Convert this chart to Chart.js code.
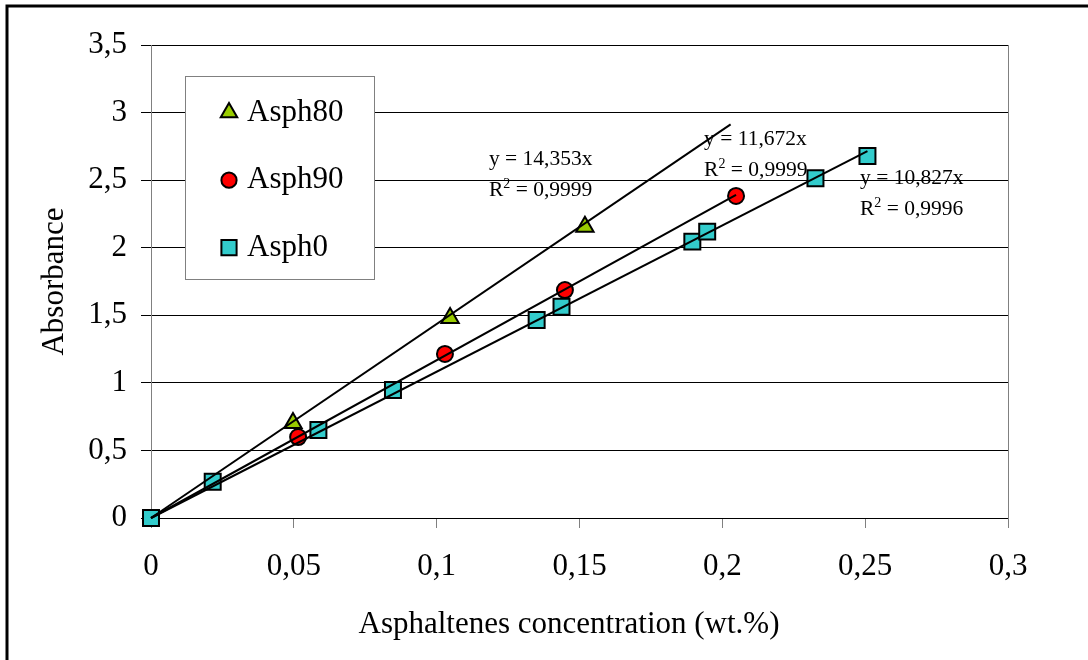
<!DOCTYPE html>
<html><head><meta charset="utf-8">
<script src="https://cdn.jsdelivr.net/npm/chart.js@4/dist/chart.umd.min.js"></script>
<style>html,body{margin:0;padding:0;background:#fff;}#wrap{width:1088px;height:660px;position:relative;}</style>
</head><body><div id="wrap"><canvas id="c" width="1088" height="660"></canvas></div>
<script>
// ---- data ----
const seriesNames = ['Asph80', 'Asph90', 'Asph0'];
const asph80X = [0.0497, 0.1047, 0.1519];
const asph80Y = [0.703, 1.48, 2.156];
const asph90X = [0.0515, 0.1029, 0.1449, 0.2048];
const asph90Y = [0.599, 1.214, 1.687, 2.383];
const asph0X = [0, 0.0216, 0.0586, 0.0847, 0.135, 0.1437, 0.1895, 0.1947, 0.2326, 0.2508];
const asph0Y = [0, 0.269, 0.651, 0.947, 1.465, 1.564, 2.045, 2.119, 2.514, 2.679];
const slopes = [14.353, 11.672, 10.827];
const r2Values = [0.9999, 0.9999, 0.9996];
const trendEndX = [0.2029, 0.2048, 0.2508];
const xTickValues = [0, 0.05, 0.1, 0.15, 0.2, 0.25, 0.3];
const yTickValues = [0, 0.5, 1, 1.5, 2, 2.5, 3, 3.5];
const xTitle = 'Asphaltenes concentration (wt.%)';
const yTitle = 'Absorbance';

// ---- styles ----
const FONT = "'Liberation Serif', 'Times New Roman', serif";
const colors = ['#99CC00', '#FF0000', '#33CCCC'];
const styles = ['triangle', 'circle', 'rect'];
const radii = [10, 8, 11.3];
const labelAnchors = [ {x: 0.1183, y: 2.612}, {x: 0.1936, y: 2.760}, {x: 0.2482, y: 2.472} ];

const comma = v => String(parseFloat(Number(v).toFixed(4))).replace('.', ',');
const pts = (xs, ys) => xs.map((x, i) => ({x, y: ys[i]}));
const seriesPts = [pts(asph80X, asph80Y), pts(asph90X, asph90Y), pts(asph0X, asph0Y)];

const datasets = [];
seriesNames.forEach((n, i) => {
  datasets.push({
    label: n, data: seriesPts[i], showLine: false, clip: false,
    pointStyle: styles[i], pointRadius: radii[i], pointHoverRadius: radii[i],
    backgroundColor: colors[i], borderColor: '#000', pointBorderWidth: 2, borderWidth: 2,
    order: 3 - i
  });
});
seriesNames.forEach((n, i) => {
  datasets.push({
    label: n + ' trend', data: [{x: 0, y: 0}, {x: trendEndX[i], y: slopes[i] * trendEndX[i]}],
    showLine: true, pointRadius: 0, pointHoverRadius: 0, borderColor: '#000', borderWidth: 2,
    backgroundColor: '#000', order: 0, clip: false
  });
});

function drawMarker(ctx, style, x, y, r) {
  ctx.beginPath();
  if (style === 'circle') ctx.arc(x, y, r, 0, Math.PI * 2);
  else if (style === 'rect') { const s = r * Math.SQRT1_2; ctx.rect(x - s, y - s, 2 * s, 2 * s); }
  else { ctx.moveTo(x, y - r); ctx.lineTo(x + r * Math.sin(Math.PI / 3), y + r / 2); ctx.lineTo(x - r * Math.sin(Math.PI / 3), y + r / 2); ctx.closePath(); }
  ctx.fill(); ctx.stroke();
}

const decor = {
  id: 'decor',
  beforeDraw(chart) {
    const ctx = chart.ctx;
    ctx.save();
    ctx.fillStyle = '#fff'; ctx.fillRect(0, 0, chart.width, chart.height);
    ctx.strokeStyle = '#000'; ctx.lineWidth = 3;
    ctx.beginPath(); ctx.moveTo(7, 700); ctx.lineTo(7, 6); ctx.lineTo(1200, 6); ctx.stroke();
    ctx.restore();
  },
  beforeDatasetsDraw(chart) {
    const ctx = chart.ctx, a = chart.chartArea;
    ctx.save();
    ctx.strokeStyle = '#808080'; ctx.lineWidth = 1;
    ctx.beginPath(); ctx.moveTo(Math.round(a.right) + 0.5, a.top); ctx.lineTo(Math.round(a.right) + 0.5, a.bottom); ctx.stroke();
    ctx.restore();
  },
  afterDatasetsDraw(chart) {
    const ctx = chart.ctx, xs = chart.scales.x, ys = chart.scales.y, a = chart.chartArea;
    ctx.save();
    // equation labels
    ctx.fillStyle = '#000'; ctx.textBaseline = 'alphabetic'; ctx.textAlign = 'left';
    labelAnchors.forEach((p, i) => {
      const px = xs.getPixelForValue(p.x), py = ys.getPixelForValue(p.y);
      ctx.font = '21.5px ' + FONT;
      ctx.fillText('y = ' + comma(slopes[i]) + 'x', px, py);
      let cx = px; const by = py + 31;
      ctx.fillText('R', cx, by); cx += ctx.measureText('R').width;
      ctx.font = '14px ' + FONT; ctx.fillText('2', cx, by - 8); cx += ctx.measureText('2').width;
      ctx.font = '21.5px ' + FONT; ctx.fillText(' = ' + comma(r2Values[i]), cx, by);
    });
    // legend
    const L = 185, T = 76, R = 374, B = 279;
    ctx.fillStyle = '#fff'; ctx.fillRect(L, T, R - L, B - T);
    ctx.strokeStyle = '#808080'; ctx.lineWidth = 1; ctx.strokeRect(L + 0.5, T + 0.5, R - L, B - T);
    seriesNames.forEach((n, i) => {
      const cy = ys.getPixelForValue(3 - i * 0.5);
      ctx.fillStyle = colors[i]; ctx.strokeStyle = '#000'; ctx.lineWidth = 2;
      drawMarker(ctx, styles[i], 229, cy, radii[i] * 0.95);
      ctx.fillStyle = '#000'; ctx.font = '31px ' + FONT; ctx.textBaseline = 'middle'; ctx.textAlign = 'left';
      ctx.fillText(n, 247, cy);
    });
    // axis titles
    ctx.fillStyle = '#000'; ctx.font = '31px ' + FONT; ctx.textAlign = 'center'; ctx.textBaseline = 'alphabetic';
    ctx.fillText(xTitle, 569, 633);
    ctx.translate(63, (a.top + a.bottom) / 2); ctx.rotate(-Math.PI / 2);
    ctx.fillText(yTitle, 0, 0);
    ctx.restore();
  }
};

new Chart(document.getElementById('c'), {
  type: 'scatter',
  data: {datasets},
  plugins: [decor],
  options: {
    responsive: false, animation: false, devicePixelRatio: 1,
    layout: {padding: {left: 0, right: 80, top: 45, bottom: 0}},
    plugins: {legend: {display: false}, tooltip: {enabled: false}},
    scales: {
      x: {
        type: 'linear', min: 0, max: 0.3,
        afterFit(s) { s.height = 142; },
        afterBuildTicks(s) { s.ticks = xTickValues.map(v => ({value: v})); },
        ticks: {color: '#000', font: {family: FONT, size: 31}, padding: 20, maxRotation: 0, autoSkip: false, callback: v => comma(v)},
        grid: {drawOnChartArea: false, drawTicks: true, tickLength: 10, color: '#808080', lineWidth: 1},
        border: {display: false}
      },
      y: {
        type: 'linear', min: 0, max: 3.5,
        afterFit(s) { s.width = 151; },
        afterBuildTicks(s) { s.ticks = yTickValues.map(v => ({value: v})); },
        ticks: {color: '#000', font: {family: FONT, size: 31}, padding: 14, autoSkip: false, callback: v => comma(v)},
        grid: {color: '#000', lineWidth: 1, tickLength: 10, drawTicks: true},
        border: {display: true, color: '#808080', width: 1}
      }
    }
  }
});
</script></body></html>
